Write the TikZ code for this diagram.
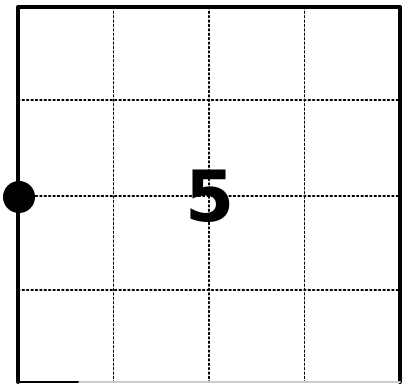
\documentclass[tikz,border=0pt]{standalone}
\usepackage{tikz}
\usepackage{fontspec}
\newfontfamily\digitfont{DejaVu Sans}
\definecolor{inkcolor}{HTML}{000000}

\begin{document}
\begin{tikzpicture}[x=0.75pt,y=-0.75pt,line cap=round,line join=round]
  \useasboundingbox (0,0) rectangle (403,384);
  % grid lines
  \foreach \x in {113.5,209,304.5}{
    \draw[inkcolor,dotted,line width=1.3pt] (\x,7)--(\x,382);
  }
  \foreach \y in {100,196,290}{
    \draw[inkcolor,dotted,line width=1.3pt] (18,\y)--(400,\y);
  }
  % frame
  \draw[inkcolor,line width=3pt] (18,382)--(18,7)--(400,7)--(400,382);
  \draw[gray!40,line width=1.5pt] (18,382)--(400,382);
  \draw[inkcolor,line width=1.5pt] (18,382)--(78,382);
  % start point
  \fill[inkcolor] (19,197) circle[radius=16];
  % label
  \node[font=\digitfont\bfseries\fontsize{53}{53}\selectfont] (num) at (210,196) {5};
\end{tikzpicture}
\end{document}
